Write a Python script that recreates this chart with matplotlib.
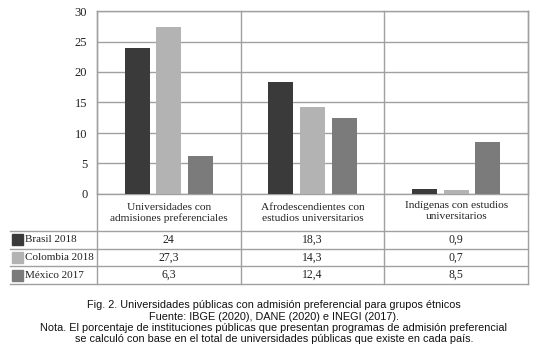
import numpy as np
import matplotlib.pyplot as plt
from matplotlib.patches import Rectangle

categorias = ["Universidades con\nadmisiones preferenciales",
              "Afrodescendientes con\nestudios universitarios",
              "Indígenas con estudios\nuniversitarios"]
series = ["Brasil 2018", "Colombia 2018", "México 2017"]
brasil = [24, 18.3, 0.9]
colombia = [27.3, 14.3, 0.7]
mexico = [6.3, 12.4, 8.5]
colores = ["#3a3a3a", "#b3b3b3", "#7b7b7b"]
nota = ["Fig. 2. Universidades públicas con admisión preferencial para grupos étnicos",
        "Fuente: IBGE (2020), DANE (2020) e INEGI (2017).",
        "Nota. El porcentaje de instituciones públicas que presentan programas de admisión preferencial",
        "se calculó con base en el total de universidades públicas que existe en cada país."]

W, H = 537, 357
grid = "#a0a0a0"
serif = "Liberation Serif"
txt = "#222222"

fig = plt.figure(figsize=(W / 100, H / 100), dpi=100)

# plot area in pixel coords
x0, x1, ytop, y0 = 97, 528, 11, 194
ax = fig.add_axes([x0 / W, 1 - y0 / H, (x1 - x0) / W, (y0 - ytop) / H])
x = np.arange(len(categorias))
offs = [-0.22, 0.0, 0.22]
for vals, off, c in zip([brasil, colombia, mexico], offs, colores):
    ax.bar(x + off, vals, width=0.175, color=c, zorder=3)
ax.set_xlim(-0.5, 2.5)
ax.set_ylim(0, 30)
ax.set_yticks(range(0, 31, 5))
ax.set_xticks([])
ax.yaxis.grid(True, color=grid, lw=1)
ax.set_axisbelow(True)
for s in ax.spines.values():
    s.set_color(grid)
    s.set_linewidth(1)
ax.tick_params(axis="y", length=0, pad=7, labelsize=9, labelcolor=txt)
for lab in ax.get_yticklabels():
    lab.set_family(serif)

# overlay for the data table under the chart
ov = fig.add_axes([0, 0, 1, 1])
ov.set_xlim(0, W)
ov.set_ylim(H, 0)
ov.axis("off")
ov.patch.set_alpha(0)

cw = (x1 - x0) / len(categorias)
rows = [231, 248.5, 266, 284]
for i in range(len(categorias) + 1):
    ov.plot([x0 + i * cw] * 2, [ytop, rows[-1]], color=grid, lw=1)
for yy in rows:
    ov.plot([10, x1], [yy, yy], color=grid, lw=1)

for i, cat in enumerate(categorias):
    cx = x0 + (i + 0.5) * cw
    cy = 211 if i == 2 else 213
    ov.text(cx, cy, cat, ha="center", va="center", fontsize=8.2,
            family=serif, color=txt, linespacing=1.15)

for r, (name, vals, c) in enumerate(zip(series, [brasil, colombia, mexico], colores)):
    yc = (rows[r] + rows[r + 1]) / 2
    ov.add_patch(Rectangle((12, yc - 5.5), 11, 11, color=c))
    ov.text(25, yc, name, ha="left", va="center", fontsize=8,
            family=serif, color=txt)
    for i, v in enumerate(vals):
        cx = x0 + (i + 0.5) * cw
        ov.text(cx, yc, f"{v:g}".replace(".", ","), ha="center", va="center",
                fontsize=8.5, family=serif, color=txt)

for k, line in enumerate(nota):
    ov.text(274, 305 + k * 11.5, line, ha="center", va="center", fontsize=7.8,
            family="Liberation Sans", color="#111111")

fig.savefig("out.png", dpi=100)
